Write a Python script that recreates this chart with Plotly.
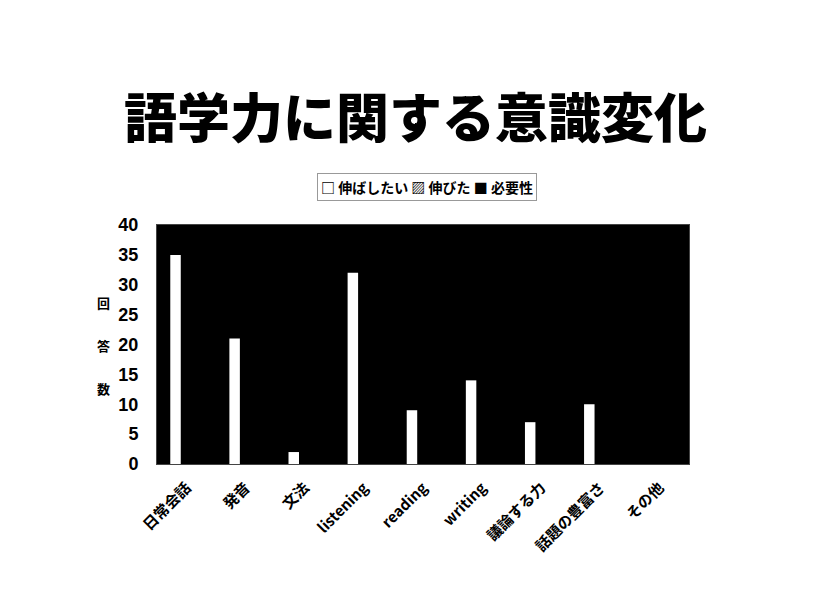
import plotly.graph_objects as go

categories = ["日常会話", "発音", "文法", "listening", "reading", "writing", "議論する力", "話題の豊富さ", "その他"]
want_to_improve = [35, 21, 2, 32, 9, 14, 7, 10, 0]   # 伸ばしたい (white bars)
improved = [0, 0, 0, 0, 0, 0, 0, 0, 0]               # 伸びた (not visible on black)
necessity = [0, 0, 0, 0, 0, 0, 0, 0, 0]              # 必要性 (not visible on black)
series_names = ["伸ばしたい", "伸びた", "必要性"]
legend_symbols = ["□", "▨", "■"]
y_ticks = [0, 5, 10, 15, 20, 25, 30, 35, 40]
y_title = "回答数"

LATIN = "Liberation Sans, Arial, Noto Sans CJK JP, sans-serif"
CJK = "Noto Sans CJK JP, Liberation Sans, sans-serif"

fig = go.Figure()
fig.add_trace(go.Bar(name=series_names[0], x=categories, y=want_to_improve,
                     marker=dict(color="white", line=dict(color="white", width=0))))
fig.add_trace(go.Bar(name=series_names[1], x=categories, y=improved,
                     marker=dict(color="black", line=dict(color="black", width=0))))
fig.add_trace(go.Bar(name=series_names[2], x=categories, y=necessity,
                     marker=dict(color="black", line=dict(color="black", width=0))))

fig.update_layout(
    width=815, height=613,
    paper_bgcolor="white", plot_bgcolor="black",
    barmode="group", bargap=0.44, bargroupgap=0.05,
    margin=dict(l=149, r=134, t=217, b=157),
    font=dict(family=LATIN, color="black"),
    title=dict(text="語学力に関する意識変化", x=0.5, xanchor="center", y=0.819, yanchor="middle",
               font=dict(size=53, weight=900, family=CJK, color="black")),
    showlegend=False,
)
fig.update_yaxes(range=[0, 40], tickvals=y_ticks, showgrid=False, zeroline=False,
                 tickfont=dict(size=18, weight="bold", family=LATIN), ticks="",
                 ticklabelstandoff=14,
                 showline=True, linecolor="#444", mirror=True)
fig.update_xaxes(tickangle=-45, showgrid=False, ticks="",
                 tickfont=dict(size=15, weight="bold", family=CJK),
                 ticklabelstandoff=8,
                 showline=True, linecolor="#444", mirror=True)

# legend drawn as a compact text box like the original
legend_text = " ".join(f"{s} {n}" for s, n in zip(legend_symbols, series_names))
fig.add_annotation(text=legend_text, xref="paper", yref="paper", x=0.508, y=1.159,
                   showarrow=False, xanchor="center", yanchor="middle",
                   bordercolor="#999", borderwidth=1, borderpad=3,
                   font=dict(size=14, weight="bold", family=CJK))

# vertical axis title, one character per line
for i, ch in enumerate(y_title):
    fig.add_annotation(text=ch, xref="paper", yref="paper", x=-0.1, y=0.494 + (1 - i) * 0.18,
                       showarrow=False, xanchor="center", yanchor="middle",
                       font=dict(size=13, weight="bold", family=CJK))

fig.write_html("out.html")
